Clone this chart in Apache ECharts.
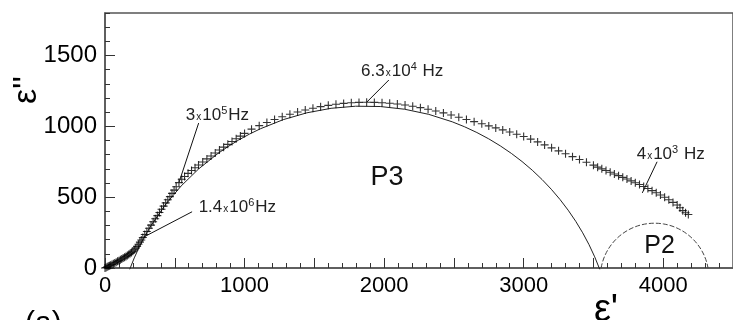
<!DOCTYPE html>
<html>
<head>
<meta charset="utf-8">
<script src="https://cdn.jsdelivr.net/npm/echarts@6/dist/echarts.min.js"></script>
<style>
  html, body { margin: 0; padding: 0; background: #fff; }
  #chart { width: 733px; height: 320px; }
</style>
</head>
<body>
<div id="chart"></div>
<script>
// Cole–Cole plot: loss part ε'' against real part ε' of the permittivity.

// Measured points, high frequency (origin) to low frequency (right)
const epsReal = [
  0, 8, 16, 24, 32, 40, 50, 60, 70, 80, 90, 100, 110, 120, 130, 140, 150, 160, 170, 180,
  190, 200, 210, 220, 230, 240, 250, 260, 271,
  285, 300, 315, 330, 345, 360, 375, 390, 405, 420, 435, 450, 465, 480, 495, 510, 530, 550, 570,
  595, 620, 645, 670, 700, 730, 760, 790, 820, 850, 880, 910, 940, 970, 1000,
  1050, 1105, 1160, 1215, 1270, 1325, 1380, 1435, 1490, 1545, 1600, 1655, 1710, 1765, 1820,
  1875, 1930, 1985, 2040, 2095, 2150, 2205, 2260, 2315,
  2370, 2425, 2480, 2535, 2590, 2645, 2700, 2750, 2800, 2850, 2900, 2950, 3000, 3050, 3100,
  3150, 3200, 3250, 3300, 3350, 3400, 3450, 3500,
  3530, 3560, 3590, 3620, 3650, 3680, 3710, 3740, 3770, 3800, 3830, 3860, 3890, 3920, 3950,
  3980, 4010, 4040, 4070, 4100, 4120, 4140, 4160, 4180
];
const epsImag = [
  0, 4, 8, 12, 16, 20, 25, 30, 36, 41, 47, 52, 58, 64, 70, 76, 82, 88, 95, 102,
  110, 118, 128, 140, 153, 168, 183, 198, 215,
  236, 258, 281, 303, 326, 348, 370, 392, 415, 437, 460, 482, 504, 527, 550, 574, 603, 626, 646,
  668, 688, 708, 727, 748, 770, 791, 812, 833, 853, 873, 893, 912, 931, 950,
  980, 1005, 1027, 1048, 1068, 1085, 1101, 1115, 1128, 1139, 1148, 1156, 1162, 1166, 1169,
  1170, 1169, 1167, 1163, 1158, 1151, 1142, 1132, 1121,
  1108, 1095, 1080, 1064, 1048, 1033, 1018, 1003, 989, 975, 960, 944, 928, 910, 890,
  869, 848, 827, 806, 786, 766, 746, 726,
  712, 700, 688, 676, 664, 652, 640, 628, 615, 602, 589, 575, 561, 546, 531,
  515, 499, 482, 463, 445, 425, 405, 390, 378
];

// Axis tick labels
const xTickLabels = [0, 1000, 2000, 3000, 4000];
const yTickLabels = [0, 500, 1000, 1500];

// Fitted relaxation arcs: [centre ε', centre ε'' (below the axis), radius]
const arcP3 = [1861, -627, 1797];
const arcP2 = [3938, -67, 389];

// Frequency call-outs: rich text, text corner (ε', ε''), leader start, leader tip
const freqLabels = [
  '{n|6.3}{x|x}{n|10}{p|4}{n| Hz}',
  '{n|3}{x|x}{n|10}{p|5}{n|Hz}',
  '{n|1.4}{x|x}{n|10}{p|6}{n|Hz}',
  '{n|4}{x|x}{n|10}{p|3}{n| Hz}'
];
const freqText = [[1835, 1461], [579, 1150], [671, 501], [3810, 875]];
const freqLeaderFrom = [[2034, 1327], [671, 1023], [624, 397], [3956, 750]];
const freqLeaderTo = [[1875, 1170], [530, 603], [271, 215], [3850, 530]];

// Arc names placed at (ε', ε'')
const arcNames = ['P3', 'P2'];
const arcNamePos = [[2020, 635], [3974, 155]];

const FONT = 'Liberation Sans, Arial, sans-serif';
const points = epsReal.map((x, i) => [x, epsImag[i]]);

const chart = echarts.init(document.getElementById('chart'), null, { renderer: 'canvas' });

function renderArc(dash, color) {
  return function (params, api) {
    const cx = api.value(0), cy = api.value(1), r = api.value(2);
    const c = api.coord([cx, cy]);
    const rp = api.size([r, 0])[0];
    const a = Math.asin(-cy / r);
    return {
      type: 'arc',
      shape: { cx: c[0], cy: c[1], r: rp, startAngle: a - Math.PI, endAngle: -a, clockwise: true },
      style: { fill: null, stroke: color, lineWidth: 1, lineDash: dash }
    };
  };
}

const richStyle = {
  n: { fontSize: 17, fontFamily: FONT, fill: '#222', color: '#222', lineHeight: 20, verticalAlign: 'middle' },
  x: { fontSize: 10, fontFamily: FONT, fill: '#222', color: '#222', lineHeight: 20, verticalAlign: 'middle', padding: [4, 1, 0, 1] },
  p: { fontSize: 11, fontFamily: FONT, fill: '#222', color: '#222', lineHeight: 20, verticalAlign: 'top', padding: [0, 1, 0, 0] }
};

const option = {
  animation: false,
  backgroundColor: '#fff',
  grid: {
    left: 105, top: 13, right: -9, bottom: 52,
    show: true, borderColor: '#555', borderWidth: 1.5, backgroundColor: 'transparent'
  },
  xAxis: {
    type: 'value', min: 0, max: 4500, interval: 500,
    axisLine: { lineStyle: { color: '#555', width: 1.5 } },
    axisTick: { inside: true, length: 10, lineStyle: { color: '#333' } },
    minorTick: { show: true, splitNumber: 5, length: 5, lineStyle: { color: '#333' } },
    splitLine: { show: false },
    axisLabel: {
      color: '#000', fontSize: 22, fontFamily: FONT, margin: 7, showMaxLabel: false,
      formatter: v => (xTickLabels.indexOf(v) >= 0 ? String(v) : '')
    }
  },
  yAxis: [
    {
      type: 'value', min: 0, max: 1800, interval: 500,
      axisLine: { lineStyle: { color: '#555', width: 1.5 } },
      axisTick: { inside: true, length: 10, lineStyle: { color: '#333' } },
      splitLine: { show: false },
      axisLabel: {
        color: '#000', fontSize: 24, fontFamily: FONT, margin: 8, showMaxLabel: false,
        formatter: v => (yTickLabels.indexOf(v) >= 0 ? String(v) : '')
      }
    },
    {
      type: 'value', min: 0, max: 1800, interval: 100, position: 'left',
      axisLine: { show: false },
      axisTick: { show: true, inside: true, length: 5, lineStyle: { color: '#333' } },
      splitLine: { show: false },
      axisLabel: { show: false }
    }
  ],
  series: [
    {
      name: 'P3 fit', type: 'custom', silent: true, z: 2,
      renderItem: renderArc(null, '#222'),
      data: [arcP3]
    },
    {
      name: 'P2 fit', type: 'custom', silent: true, z: 2,
      renderItem: renderArc([5, 2], '#444'),
      data: [arcP2]
    },
    {
      name: 'measured', type: 'scatter', z: 3,
      symbol: 'path://M0,5L10,5M5,0L5,10', symbolSize: 8,
      itemStyle: { color: '#000', borderColor: '#000', borderWidth: 1.1 },
      emphasis: { disabled: true },
      data: points
    },
    {
      name: 'frequencies', type: 'custom', silent: true, z: 4,
      data: freqLabels.map((t, i) => [freqText[i][0], freqText[i][1], freqLeaderFrom[i][0], freqLeaderFrom[i][1], freqLeaderTo[i][0], freqLeaderTo[i][1], i]),
      renderItem: function (params, api) {
        const i = api.value(6);
        const t = api.coord([api.value(0), api.value(1)]);
        const a = api.coord([api.value(2), api.value(3)]);
        const b = api.coord([api.value(4), api.value(5)]);
        return {
          type: 'group',
          children: [
            { type: 'line', shape: { x1: a[0], y1: a[1], x2: b[0], y2: b[1] }, style: { stroke: '#111', lineWidth: 1 } },
            { type: 'text', x: t[0], y: t[1], style: { text: freqLabels[i], rich: richStyle, align: 'left', verticalAlign: 'top', fill: '#222' } }
          ]
        };
      }
    },
    {
      name: 'arc names', type: 'custom', silent: true, z: 4,
      data: arcNames.map((n, i) => [arcNamePos[i][0], arcNamePos[i][1], i]),
      renderItem: function (params, api) {
        const i = api.value(2);
        const p = api.coord([api.value(0), api.value(1)]);
        return {
          type: 'text', x: p[0], y: p[1],
          style: { text: arcNames[i], font: (i === 0 ? 27 : 25) + 'px ' + FONT, fill: '#111', align: 'center', verticalAlign: 'middle' }
        };
      }
    }
  ],
  graphic: [
    { type: 'text', x: 27, y: 90, rotation: Math.PI / 2,
      style: { text: "ε''", font: '34px ' + FONT, fill: '#000', align: 'center', verticalAlign: 'middle' } },
    { type: 'text', x: 606, y: 311,
      style: { text: "ε'", font: '38px ' + FONT, fill: '#000', align: 'center', verticalAlign: 'middle' } },
    { type: 'text', x: 25, y: 309,
      style: { text: '(a)', font: '30px ' + FONT, fill: '#000', align: 'left', verticalAlign: 'top' } }
  ]
};

chart.setOption(option);
</script>
</body>
</html>
